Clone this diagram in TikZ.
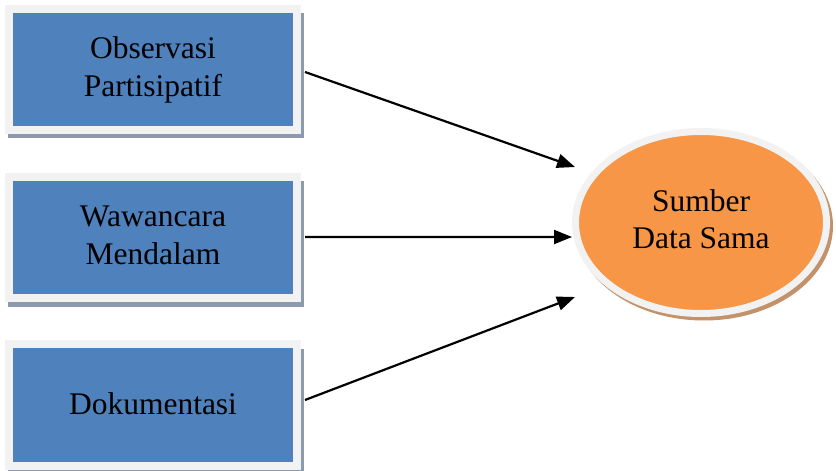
\documentclass[tikz,border=0pt]{standalone}
\usepackage{fontspec}
\setmainfont{Liberation Serif}
\usetikzlibrary{arrows.meta,shapes.geometric}
\definecolor{framec}{HTML}{F2F2F2}
\definecolor{boxblue}{HTML}{4F81BD}
\definecolor{boxshadow}{HTML}{8D99AC}
\definecolor{ellorange}{HTML}{F79646}
\definecolor{ellshadow}{HTML}{C4926A}
\newcommand{\twoline}[2]{\begin{tabular}{@{}c@{}}#1\\#2\end{tabular}}
\tikzset{
  srcbox/.style={draw=framec, line width=8bp, fill=boxblue, minimum width=288bp, minimum height=121bp, inner sep=0pt, align=center, font=\fontsize{31.5bp}{38bp}\selectfont},
  target/.style={ellipse, draw=framec, line width=7bp, fill=ellorange, minimum width=251bp, minimum height=182bp, inner sep=0pt, align=center, font=\fontsize{31.5bp}{37bp}\selectfont},
  arr/.style={line width=2.2bp, -{Triangle[length=18bp,width=14bp]}},
}
\begin{document}
\begin{tikzpicture}[x=1bp,y=-1bp]
\useasboundingbox (0,0) rectangle (836,471);
% shadows
\fill[boxshadow] (8,13) rectangle (304,138);
\fill[boxshadow] (8,181) rectangle (304,307);
\fill[boxshadow] (8,349) rectangle (304,472);
\fill[ellshadow] (704,226) ellipse [x radius=129bp, y radius=94.5bp];
% boxes
\node[srcbox] (b1) at (153,69.5) {\raisebox{11bp}{\twoline{Observasi}{Partisipatif}}};
\node[srcbox] (b2) at (153,237.5) {\raisebox{11bp}{\twoline{Wawancara}{Mendalam}}};
\node[srcbox] (b3) at (153,405) {\raisebox{2bp}{Dokumentasi}};
\node[target] (e) at (701,222.5) {\raisebox{2bp}{\twoline{Sumber}{Data Sama}}};
% arrows
\draw[arr] ([shift={(4,2.5)}]b1.east) -- ([shift={(-126,-55.5)}]e.center);
\draw[arr] ([shift={(4,-0.5)}]b2.east) -- ([shift={(-129,14.5)}]e.center);
\draw[arr] ([shift={(4,-5)}]b3.east) -- ([shift={(-126,74.5)}]e.center);
\end{tikzpicture}
\end{document}
